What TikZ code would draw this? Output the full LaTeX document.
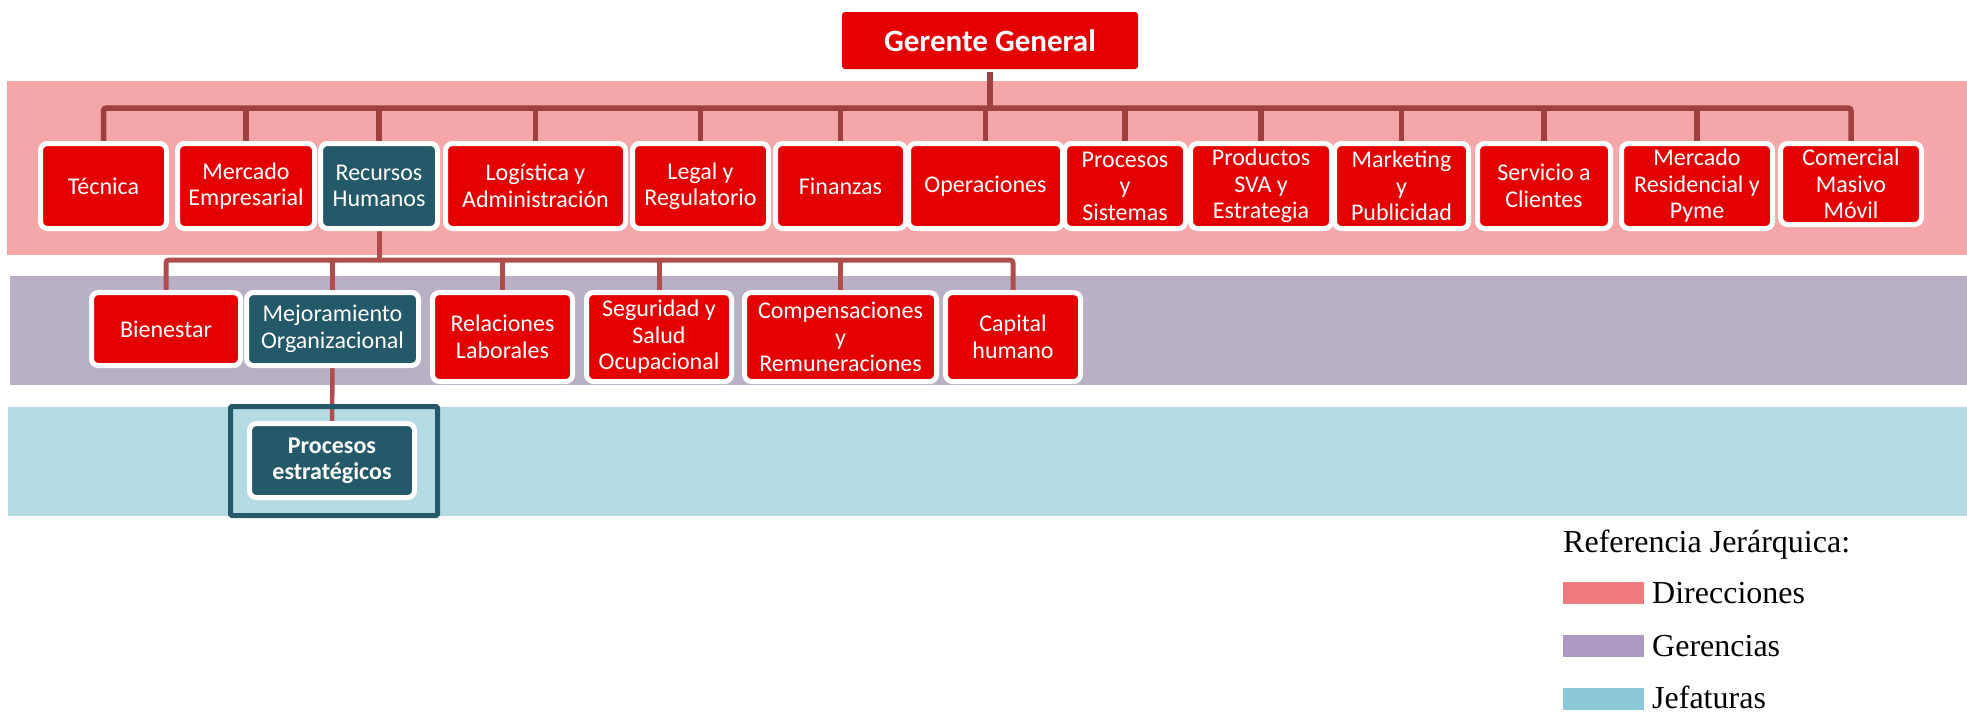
\documentclass[tikz,border=0pt]{standalone}
\usepackage{fontspec}
\setmainfont{Carlito}
\newfontfamily\legendfont{Liberation Serif}

\definecolor{dirband}{RGB}{244,166,169}
\definecolor{gerband}{RGB}{185,176,198}
\definecolor{jefband}{RGB}{180,219,228}
\definecolor{dirkey}{RGB}{240,123,127}
\definecolor{gerkey}{RGB}{172,154,194}
\definecolor{jefkey}{RGB}{139,200,216}
\definecolor{boxred}{RGB}{228,0,0}
\definecolor{boxteal}{RGB}{35,89,104}
\definecolor{linkdark}{RGB}{158,64,64}
\definecolor{linklight}{RGB}{176,76,76}

\pgfdeclarelayer{bands}
\pgfdeclarelayer{links}
\pgfsetlayers{bands,links,main}

\tikzset{
  unit/.style={rectangle, rounded corners=7pt, draw=white, line width=5pt,
    text=white, align=center, inner sep=0pt,
    font=\fontsize{24}{26.5}\selectfont},
  redunit/.style={unit, fill=boxred},
  tealunit/.style={unit, fill=boxteal},
  conone/.style={draw=linkdark, line width=5.5pt},
  contwo/.style={draw=linklight, line width=5pt},
  legendtext/.style={inner sep=0pt, anchor=base west,
    font=\legendfont\fontsize{32}{36}\selectfont},
  keybox/.style={inner sep=0pt, anchor=north west, minimum width=81pt, minimum height=22pt},
}

\begin{document}
\begin{tikzpicture}[x=1pt, y=-1pt]
\useasboundingbox (0,0) rectangle (1967,712);

% hierarchy bands
\begin{pgfonlayer}{bands}
  \fill[dirband] (7,81) rectangle (1967,254.5);
  \fill[gerband] (10,276) rectangle (1967,385);
  \fill[jefband] (8,407) rectangle (1967,516);
\end{pgfonlayer}

% top
\node[unit, fill=boxred, draw=none, rounded corners=3pt, minimum width=296pt,
  minimum height=57pt, font=\bfseries\fontsize{31}{34}\selectfont] (ger) at (990,40.5) {Gerente General};

% direcciones
\node[redunit,  minimum width=126pt, minimum height=85pt] (tec) at (103.5,186) {Técnica};
\node[redunit,  minimum width=137pt, minimum height=85pt] (mem) at (246,186) {Mercado\\Empresarial};
\node[tealunit, minimum width=117pt, minimum height=85pt] (rh)  at (379,186) {Recursos\\Humanos};
\node[redunit,  minimum width=180pt, minimum height=85pt] (log) at (535.5,186) {Logística y\\Administración};
\node[redunit,  minimum width=136pt, minimum height=85pt] (leg) at (700.5,186) {Legal y\\Regulatorio};
\node[redunit,  minimum width=130pt, minimum height=85pt] (fin) at (840.5,186) {Finanzas};
\node[redunit,  minimum width=154pt, minimum height=85pt] (ope) at (985.5,186) {Operaciones};
\node[redunit,  minimum width=121pt, minimum height=85pt] (pys) at (1125,186) {Procesos\\y\\Sistemas};
\node[redunit,  minimum width=141pt, minimum height=85pt] (pro) at (1261,186) {Productos\\SVA y\\Estrategia};
\node[redunit,  minimum width=134pt, minimum height=85pt] (mkt) at (1401.5,186) {Marketing\\y\\Publicidad};
\node[redunit,  minimum width=133pt, minimum height=85pt] (ser) at (1544,186) {Servicio a\\Clientes};
\node[redunit,  minimum width=151pt, minimum height=85pt] (mrp) at (1697,186) {Mercado\\Residencial y\\Pyme};
\node[redunit,  minimum width=141pt, minimum height=81pt] (cmm) at (1851,184) {Comercial\\Masivo\\Móvil};

% gerencias
\node[redunit,  minimum width=149pt, minimum height=73pt] (bie) at (166,329) {Bienestar};
\node[tealunit, minimum width=172pt, minimum height=73pt] (mej) at (332.5,329) {Mejoramiento\\Organizacional};
\node[redunit,  minimum width=140pt, minimum height=89pt] (rel) at (502.5,337) {Relaciones\\Laborales};
\node[redunit,  minimum width=145pt, minimum height=89pt] (seg) at (659,337) {Seguridad y\\Salud\\Ocupacional};
\node[redunit,  minimum width=192pt, minimum height=89pt] (com) at (840.5,337) {Compensaciones\\y\\Remuneraciones};
\node[redunit,  minimum width=135pt, minimum height=89pt] (cap) at (1013,337) {Capital\\humano};

% jefaturas
\node[draw=boxteal, line width=5pt, rounded corners=1.5pt, inner sep=0pt,
  minimum width=207pt, minimum height=109pt] (frame) at (334,461) {};
\node[tealunit, minimum width=165pt, minimum height=74pt,
  font=\bfseries\fontsize{24}{26.5}\selectfont] (pe) at (332,460.5) {Procesos\\estratégicos};

% connectors
\begin{pgfonlayer}{links}
  \coordinate (busone) at (990,108);
  \draw[conone] (ger.south) -- (busone);
  \draw[conone, rounded corners=3pt] (tec.north) |- (busone) -| (cmm.north);
  \foreach \n in {mem,rh,log,leg,fin,ope,pys,pro,mkt,ser,mrp}
    \draw[conone] (\n.north) -- (\n.north |- busone);
  \coordinate (bustwo) at (379,260);
  \draw[contwo] (rh.south) -- (bustwo);
  \draw[contwo, rounded corners=3pt] (bie.north) |- (bustwo) -| (cap.north);
  \foreach \n in {mej,rel,seg,com}
    \draw[contwo] (\n.north) -- (\n.north |- bustwo);
  \draw[contwo, line width=4.5pt] (mej.south) -- (pe.north);
\end{pgfonlayer}

% legend
\node[legendtext] (legtitle) at (1563,552) {Referencia Jerárquica:};
\node[keybox, fill=dirkey] (keydir) at (1563,582) {};
\node[legendtext] (labdir) at (1652,603) {Direcciones};
\node[keybox, fill=gerkey] (keyger) at (1563,635) {};
\node[legendtext] (labger) at (1652,656) {Gerencias};
\node[keybox, fill=jefkey] (keyjef) at (1563,688) {};
\node[legendtext] (labjef) at (1652,708) {Jefaturas};
\end{tikzpicture}
\end{document}
